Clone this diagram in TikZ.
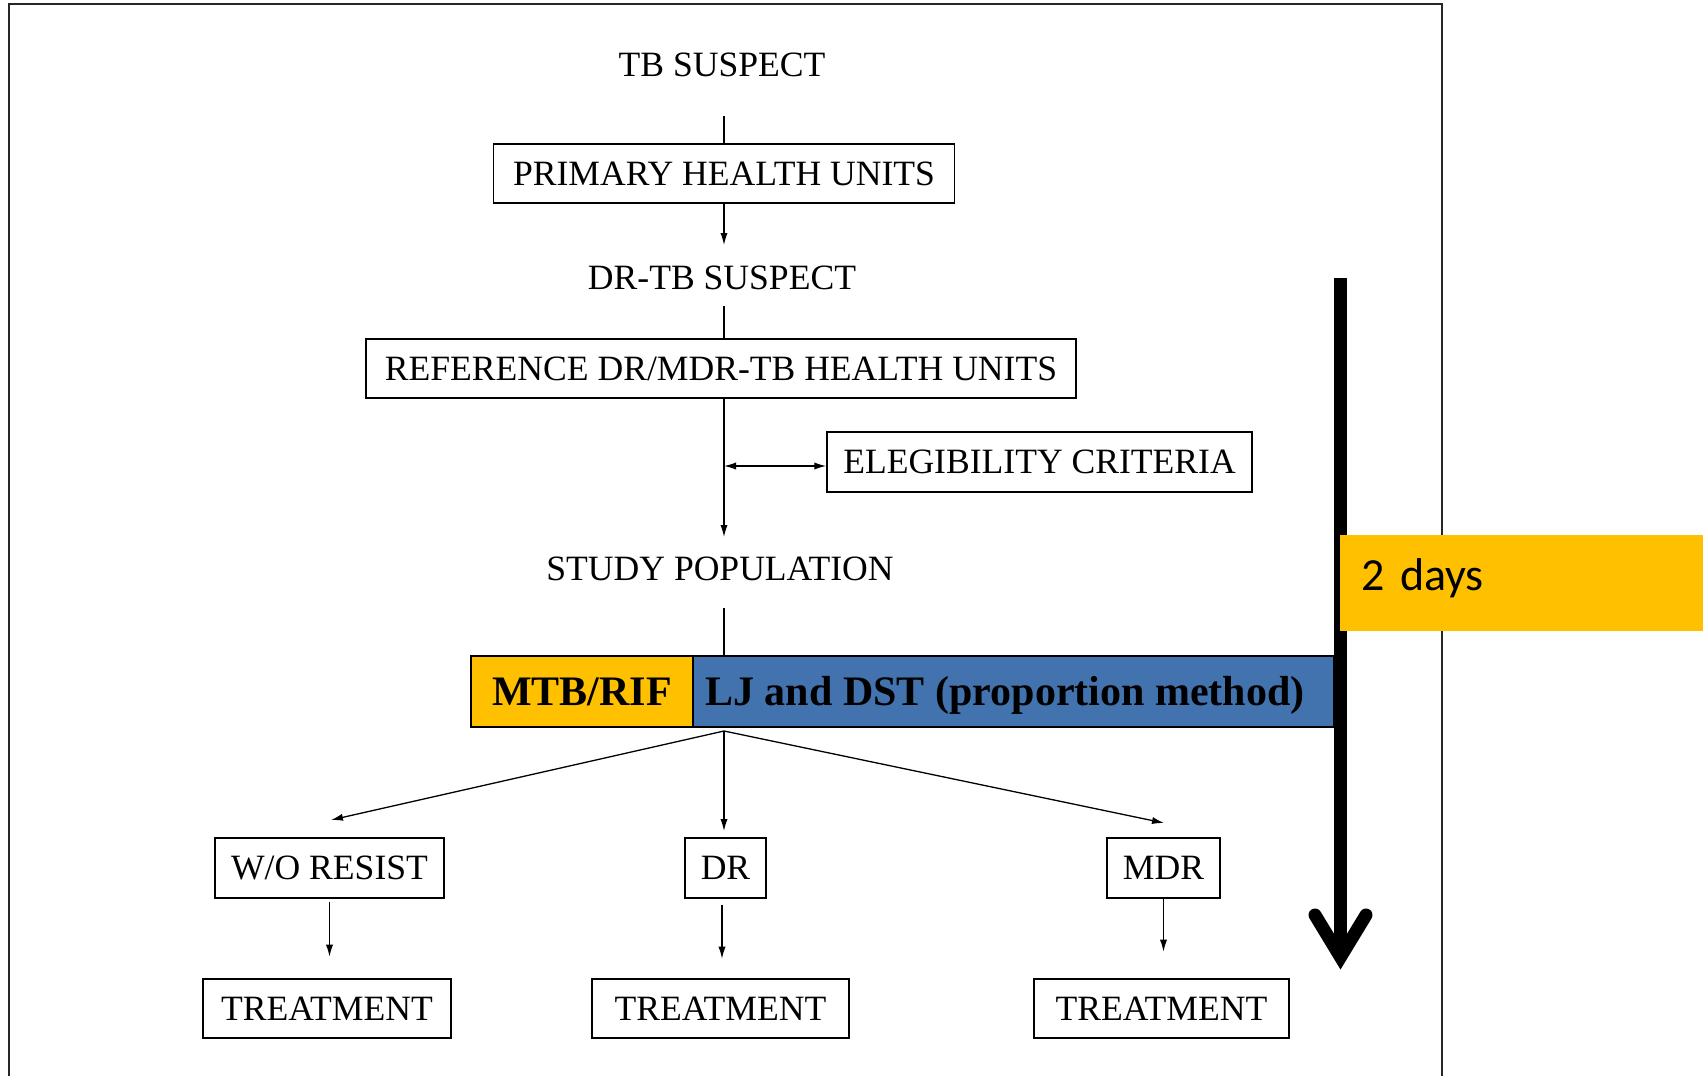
\documentclass[tikz,border=0pt]{standalone}
\usepackage{fontspec}
\setmainfont{Liberation Serif}
\newfontfamily\daysfont{Carlito}
\usetikzlibrary{arrows.meta}
\definecolor{accyellow}{HTML}{FFC000}
\definecolor{accblue}{HTML}{4373AF}

\begin{document}
\begin{tikzpicture}[x=0.5pt,y=-0.5pt,
  every node/.style={font=\fontsize{17.8pt}{20pt}\selectfont, inner sep=0pt},
  box/.style={draw, line width=0.7pt, minimum height=29.5pt},
  flow/.style={line width=0.65pt},
  tip/.tip={Latex[length=6pt,width=3.6pt]},
  arr/.style={flow, -tip},
  bar/.style={draw, line width=0.9pt, minimum height=35.5pt, text height=14.2pt, text depth=0pt,
    font=\fontsize{21pt}{24pt}\selectfont\bfseries},
]
\useasboundingbox (0,0) rectangle (1703,1076);

% outer frame (open at the bottom)
\draw[line width=1.1pt, black!85] (9,1076) -- (9,4) -- (1442,4) -- (1442,1076);

% flowchart nodes
\node (tb) at (722,65) {TB SUSPECT};
\node[box, minimum width=230.5pt] (phu) at (724,173.5) {PRIMARY HEALTH UNITS};
\node (drtb) at (722,278) {DR-TB SUSPECT};
\node[box, minimum width=355pt] (ref) at (721,368.5) {REFERENCE DR/MDR-TB HEALTH UNITS};
\node[box, minimum width=212.5pt, minimum height=30pt] (elig) at (1039.5,462) {ELEGIBILITY CRITERIA};
\node (study) at (720,569) {STUDY POPULATION};
\node[bar, fill=accyellow, minimum width=111pt] (mtb) at (582,691.5) {MTB/RIF};
\node[bar, fill=accblue, minimum width=320.5pt] (lj) at (1013.5,691.5) {\hspace*{-8.5pt}LJ and DST (proportion method)};

\node[box, minimum width=114.5pt, minimum height=30pt] (wo) at (329.5,868) {W/O RESIST};
\node[box, minimum width=40.5pt, minimum height=30pt] (dr) at (725.5,868) {DR};
\node[box, minimum width=56.5pt, minimum height=30pt] (mdr) at (1163.5,868) {MDR};
\node[box, minimum width=124pt] (t1) at (327,1008.5) {TREATMENT};
\node[box, minimum width=128.5pt] (t2) at (720.5,1008.5) {TREATMENT};
\node[box, minimum width=127.5pt] (t3) at (1161.5,1008.5) {TREATMENT};

% connectors
\coordinate (tbs) at (724,116);
\draw[flow] (tbs) -- (tbs |- phu.north);
\coordinate (drtbn) at (724,245);
\draw[arr] (phu.south -| drtbn) -- (drtbn);
\coordinate (drtbs) at (724,306);
\draw[flow] (drtbs) -- (drtbs |- ref.north);
\coordinate (studyn) at (724,537);
\draw[arr] (ref.south -| studyn) -- (studyn);
\coordinate (split) at (724,466);
\draw[flow, tip-tip] (split) -- (split -| elig.west);
\coordinate (studys) at (724,608);
\draw[flow] (studys) -- (studys |- lj.north);

\coordinate (fan) at (724,731);
\coordinate (woend) at (331,820);
\coordinate (drend) at (724,831);
\coordinate (mdrend) at (1164,823);
\draw[arr] (fan) -- (woend);
\draw[arr] (fan) -- (drend);
\draw[arr] (fan) -- (mdrend);

\draw[arr] ([yshift=-1.5pt]wo.south) -- ++(0,55);
\draw[arr] ([xshift=-1.75pt,yshift=-3pt]dr.south) -- ++(0,54);
\draw[arr] (mdr.south) -- ++(0,53);

% time arrow
\draw[line width=6.5pt] (1340.5,278) -- (1340.5,958);
\draw[line width=6.5pt, line cap=round, line join=miter] (1315,915) -- (1340.5,957) -- (1366,915);

% duration label
\node[fill=accyellow, minimum height=48pt, text width=160.5pt, inner xsep=10.5pt,
  align=left, anchor=west, font=\daysfont\fontsize{23pt}{26pt}\selectfont] (days) at (1340,583)
  {\raisebox{-3.5pt}[0pt][0pt]{2 days}};
\end{tikzpicture}
\end{document}
